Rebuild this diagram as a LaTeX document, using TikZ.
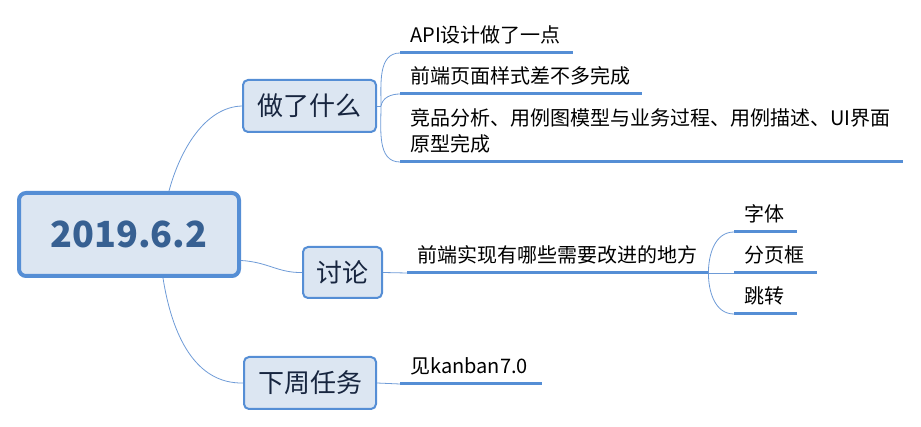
\documentclass[tikz,border=0pt]{standalone}
\usepackage{fontspec}
\setmainfont{Noto Sans CJK SC}
\definecolor{lineblue}{RGB}{85,142,213}
\definecolor{branchblue}{RGB}{110,155,215}
\definecolor{boxfill}{RGB}{220,230,242}
\definecolor{roottext}{RGB}{55,96,146}
\definecolor{boxtext}{RGB}{23,37,63}

\begin{document}
\begin{tikzpicture}[x=1pt,y=-1pt,
    topic/.style={draw=lineblue,fill=boxfill,line width=2pt,rounded corners=5pt,
      minimum height=52pt,inner sep=0pt,text=boxtext,font=\fontsize{26}{30}\selectfont},
    leaf/.style={anchor=south west,inner xsep=0pt,inner ysep=7pt,text depth=3pt,align=left,
      font=\fontsize{20}{26}\selectfont},
    uline/.style={draw=lineblue,line width=3pt},
    branch/.style={draw=branchblue,line width=0.8pt}]
\useasboundingbox (0,0) rectangle (921,427);
% Zentrum und Hauptzweige
\node[topic,line width=4pt,rounded corners=7pt,minimum width=220pt,minimum height=83pt,
  text=roottext,font=\fontsize{36}{44}\selectfont\bfseries] (root) at (129,234.5) {2019.6.2};
\node[topic,minimum width=133pt] (done) at (309.5,106) {做了什么};
\node[topic,minimum width=79pt,minimum height=51pt] (talk) at (342.5,272.5) {讨论};
\node[topic,minimum width=132pt] (next) at (310,383) {下周任务};
% Unterpunkte
\node[leaf,text width=163pt] (api) at (410,53) {API设计做了一点};
\node[leaf,text width=232pt] (page) at (410,94) {前端页面样式差不多完成};
\node[leaf,text width=493pt,text depth=29pt] (spec) at (410,162) {竞品分析、用例图模型与业务过程、用例描述、UI界面\\原型完成};
\node[leaf,text width=291pt] (impl) at (417,273) {前端实现有哪些需要改进的地方};
\node[leaf,text width=53pt] (typo) at (744,232) {字体};
\node[leaf,text width=73pt] (pager) at (744,273) {分页框};
\node[leaf,text width=53pt] (jump) at (744,314) {跳转};
\node[leaf,text width=132pt] (kanban) at (410,384) {见kanban7.0};
\foreach \n in {api,page,spec,impl,typo,pager,jump,kanban}{
  \coordinate (\n-l) at ([xshift=-10pt]\n.south west);
  \draw[uline] (\n-l) -- (\n.south east);
}
% Verbindungen
\draw[branch] ([xshift=40pt]root.north) .. controls (180,150) and (205,107) .. (done.west);
\draw[branch] ([yshift=-26pt]root.east) .. controls (268,262) and (278,273) .. (talk.west);
\draw[branch] ([xshift=34pt]root.south) .. controls (172,335) and (195,384) .. (next.west);
\coordinate (donefork) at ([xshift=4pt]done.east);
\draw[branch] (done.east) -- (donefork);
\draw[branch] (donefork) to[out=90,in=180] (api-l);
\draw[branch] (donefork) to[out=80,in=180] (page-l);
\draw[branch] (donefork) to[out=-90,in=180] (spec-l);
\draw[branch] (talk.east) -- (impl-l);
\draw[branch] (impl.south east) to[out=90,in=180] (typo-l);
\draw[branch] (impl.south east) -- (pager-l);
\draw[branch] (impl.south east) to[out=-90,in=180] (jump-l);
\draw[branch] (next.east) -- (kanban-l);
\end{tikzpicture}
\end{document}
